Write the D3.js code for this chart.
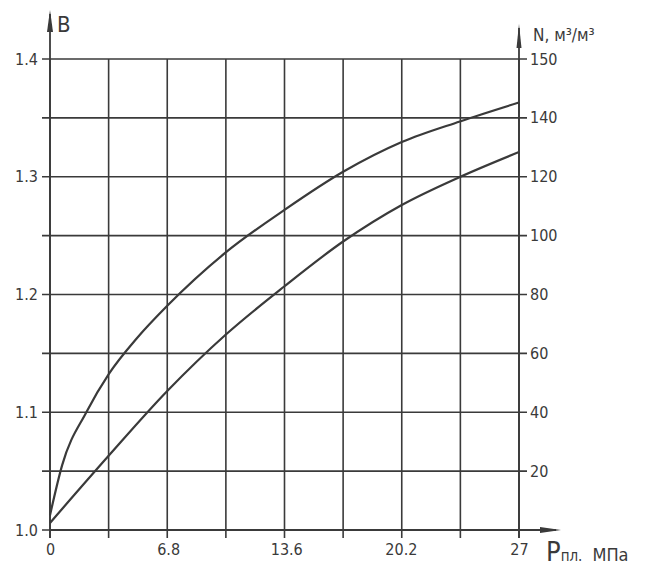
<!DOCTYPE html>
<html><head><meta charset="utf-8">
<script src="https://cdn.jsdelivr.net/npm/d3@7/dist/d3.min.js"></script>
<style>body{margin:0;background:#fff}svg{display:block}</style>
</head><body>
<svg id="c" width="658" height="579"></svg>
<script>
// Data
const nPressure = [0, 0.7, 2.1, 3.4, 5.0, 6.75, 10.1, 13.5, 16.9, 20.25, 23.6, 27];
const nValues   = [5, 22, 40, 53, 65, 76, 94, 108.5, 121.5, 131.5, 138.5, 142.5];
const bPressure = [0, 3.375, 6.75, 10.125, 13.5, 16.875, 20.25, 23.625, 27];
const bValues   = [1.006, 1.063, 1.118, 1.166, 1.207, 1.245, 1.276, 1.300, 1.321];
const xTickLabels = ["0", "6.8", "13.6", "20.2", "27"];
const xTickValues = [0, 6.8, 13.6, 20.2, 27];
const bTickValues = [1.0, 1.1, 1.2, 1.3, 1.4];
const nTickValues = [20, 40, 60, 80, 100, 120, 140, 150];
const xTitle = ["P", "пл.", "МПа"];
const bTitle = "В";
const nTitle = "N, м³/м³";

const svg = d3.select("#c");
const ink = "#3a3a3a";
const font = "'Liberation Sans Narrow','DejaVu Sans Condensed','Liberation Sans',sans-serif";

const x = d3.scaleLinear().domain([0, 27]).range([50, 519]);
const yB = d3.scaleLinear().domain([1.0, 1.4]).range([530, 59]);
const yN = d3.scaleLinear().domain([0, 140, 150]).range([530, 117, 59]);

// grid
const vGrid = d3.range(0, 27.001, 27 / 8);
const hGrid = d3.range(1.0, 1.4001, 0.05);
svg.append("g").selectAll("line").data(vGrid).join("line")
  .attr("x1", d => x(d)).attr("x2", d => x(d))
  .attr("y1", yB(1.4)).attr("y2", yB(1.0) + 8)
  .attr("stroke", ink).attr("stroke-width", 1.6);
svg.append("g").selectAll("line").data(hGrid).join("line")
  .attr("x1", x(0) - 8).attr("x2", x(27) + 8)
  .attr("y1", d => yB(d)).attr("y2", d => yB(d))
  .attr("stroke", ink).attr("stroke-width", 1.6);

// axes lines with arrows
svg.append("line").attr("x1", x(0)).attr("x2", x(0)).attr("y1", yB(1.0) + 8).attr("y2", 14)
  .attr("stroke", ink).attr("stroke-width", 1.8);
svg.append("path").attr("d", `M${x(0)},10 L${x(0)-3},32 L${x(0)+3},32 Z`).attr("fill", ink);
svg.append("line").attr("x1", x(27)).attr("x2", x(27)).attr("y1", yB(1.0) + 8).attr("y2", 28)
  .attr("stroke", ink).attr("stroke-width", 1.8);
svg.append("path").attr("d", `M${x(27)},24 L${x(27)-2.5},48 L${x(27)+2.5},48 Z`).attr("fill", ink);
svg.append("line").attr("x1", x(0)).attr("x2", 556).attr("y1", yB(1.0)).attr("y2", yB(1.0))
  .attr("stroke", ink).attr("stroke-width", 1.8);
svg.append("path").attr("d", `M561,${yB(1.0)} L540,${yB(1.0)-3} L540,${yB(1.0)+3} Z`).attr("fill", ink);

// axes labels
const styleAxis = g => {
  g.select(".domain").remove();
  g.selectAll(".tick line").remove();
  g.selectAll("text").attr("fill", ink).attr("font-family", font).attr("font-size", 16);
};
svg.append("g").attr("transform", `translate(${x(0)},0)`)
  .call(d3.axisLeft(yB).tickValues(bTickValues).tickFormat(d3.format(".1f")).tickSize(8).tickPadding(4))
  .call(styleAxis);
svg.append("g").attr("transform", `translate(${x(27)},0)`)
  .call(d3.axisRight(yN).tickValues(nTickValues).tickFormat(d3.format("d")).tickSize(8).tickPadding(3))
  .call(styleAxis);
svg.append("g").attr("transform", `translate(0,${yB(1.0)})`)
  .call(d3.axisBottom(x).tickValues(xTickValues).tickFormat((d, i) => xTickLabels[i]).tickSize(8).tickPadding(6))
  .call(styleAxis);

// titles
svg.append("text").attr("x", 57).attr("y", 32).attr("font-family", font).attr("font-size", 22)
  .attr("fill", ink).text(bTitle);
svg.append("text").attr("x", 533).attr("y", 41).attr("font-family", font).attr("font-size", 17)
  .attr("fill", ink).text(nTitle);
const xt = svg.append("text").attr("x", 546).attr("y", 561).attr("font-family", font).attr("fill", ink);
xt.append("tspan").attr("font-size", 27).text(xTitle[0]);
xt.append("tspan").attr("font-size", 15).text(xTitle[1]);
xt.append("tspan").attr("font-size", 18).attr("dx", 10).text(xTitle[2]);

// curves
const lineN = d3.line().x(d => x(d[0])).y(d => yN(d[1])).curve(d3.curveMonotoneX);
const lineB = d3.line().x(d => x(d[0])).y(d => yB(d[1])).curve(d3.curveMonotoneX);
svg.append("path").datum(nPressure.map((p, i) => [p, nValues[i]]))
  .attr("d", lineN).attr("fill", "none").attr("stroke", ink).attr("stroke-width", 2.2);
svg.append("path").datum(bPressure.map((p, i) => [p, bValues[i]]))
  .attr("d", lineB).attr("fill", "none").attr("stroke", ink).attr("stroke-width", 2.2);
</script>
</body></html>
